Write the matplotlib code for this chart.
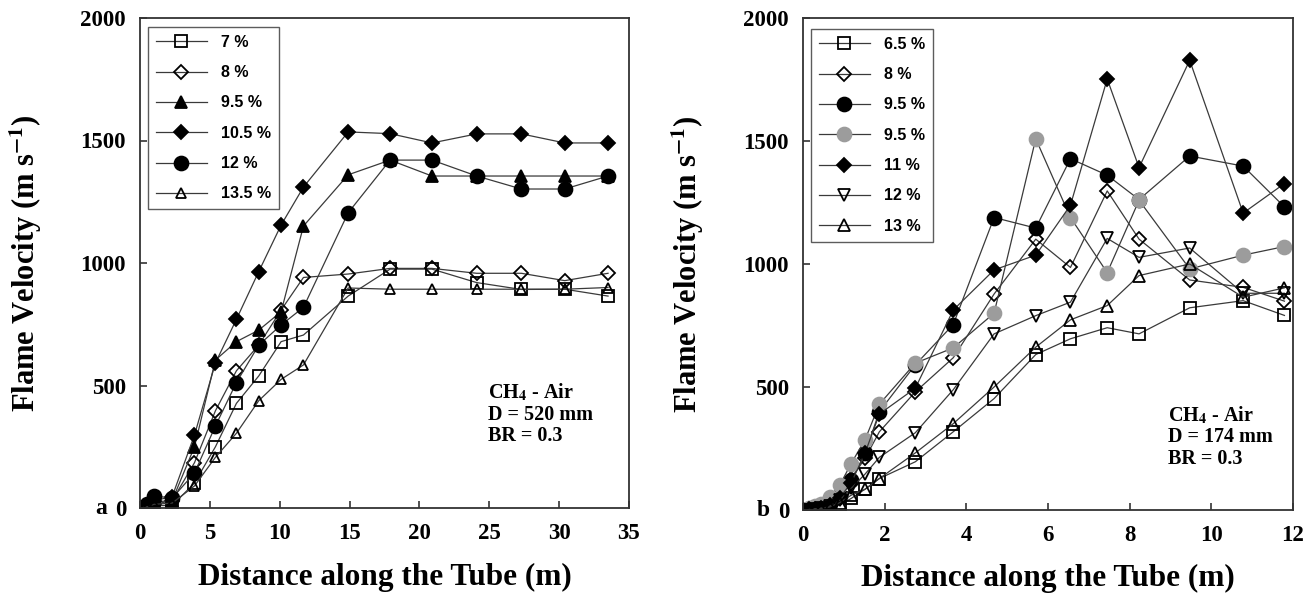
import matplotlib
matplotlib.use("Agg")
import matplotlib.pyplot as plt
from matplotlib import font_manager

plt.rcParams['mathtext.fontset'] = 'stix'

# ---------------- Panel a data (D = 520 mm) ----------------
x_a = [0, 0.5, 1.0, 2.3, 3.9, 5.4, 6.9, 8.5, 10.1, 11.7, 14.9, 17.9, 20.9, 24.1, 27.3, 30.4, 33.5]
a_7 = [0, 5, 10, 10, 102, 250, 427, 539, 679, 706, 865, 975, 975, 920, 892, 893, 865]
a_8 = [0, 5, 15, 30, 185, 397, 560, 665, 808, 941, 955, 978, 978, 958, 958, 928, 958]
a_95 = [0, 10, 25, 30, 250, 604, 679, 726, 801, 1151, 1360, 1420, 1355, 1355, 1355, 1355, 1355]
a_105 = [0, 10, 30, 46, 298, 592, 770, 965, 1155, 1310, 1535, 1528, 1490, 1527, 1527, 1490, 1490]
a_12 = [0, 15, 50, 40, 143, 335, 512, 665, 747, 819, 1205, 1420, 1420, 1355, 1302, 1302, 1355]
a_135 = [0, 5, 15, 20, 90, 207, 305, 438, 525, 584, 898, 893, 893, 893, 893, 893, 900]
labels_a = ['7 %', '8 %', '9.5 %', '10.5 %', '12 %', '13.5 %']

# ---------------- Panel b data (D = 174 mm) ----------------
x_b = [0, 0.15, 0.3, 0.45, 0.65, 0.9, 1.18, 1.52, 1.87, 2.75, 3.68, 4.68, 5.7, 6.55, 7.45, 8.23, 9.47, 10.78, 11.79]
b_65 = [0, 2, 4, 6, 10, 20, 47, 85, 128, 196, 318, 453, 632, 696, 741, 716, 822, 851, 791]
b_8 = [0, 3, 6, 10, 20, 50, 128, 210, 318, 480, 619, 878, 1101, 986, 1297, 1101, 935, 905, 849]
b_95 = [0, 3, 6, 12, 25, 55, 120, 230, 400, 590, 754, 1189, 1146, 1428, 1361, 1262, 1439, 1398, 1232]
b_95g = [0, 8, 15, 25, 54, 101, 189, 286, 430, 597, 659, 800, 1509, 1189, 965, 1259, 980, 1036, 1071]
b_11 = [0, 3, 6, 10, 20, 50, 110, 232, 390, 495, 813, 976, 1036, 1239, 1752, 1392, 1828, 1207, 1327]
b_12 = [0, 2, 5, 8, 15, 40, 88, 146, 214, 314, 489, 716, 790, 845, 1104, 1027, 1065, 881, 881]
b_13 = [0, 2, 4, 6, 12, 30, 60, 84, 128, 232, 351, 500, 662, 773, 831, 953, 1000, 865, 903]
labels_b = ['6.5 %', '8 %', '9.5 %', '9.5 %', '11 %', '12 %', '13 %']

LINE = '#3a3a3a'
GRAY = '#9c9c9c'
SERIF = ['Liberation Serif', 'DejaVu Serif']
installed = {f.name for f in font_manager.fontManager.ttflist}
LEGFONT = ['Liberation Sans Narrow'] if 'Liberation Sans Narrow' in installed else ['Liberation Sans']
LEGSIZE = 13.5 if LEGFONT[0] == 'Liberation Sans Narrow' else 11.5

fig = plt.figure(figsize=(13.16, 5.94), dpi=100)
axa = fig.add_axes([140/1316, 86/594, 489/1316, 490/594])
axb = fig.add_axes([803/1316, 84/594, 490/1316, 492/594])

def style(m, face, edge='black', ms=8):
    return dict(marker=m, markerfacecolor=face, markeredgecolor=edge, markersize=ms,
                markeredgewidth=1.3, color=LINE, linewidth=0.9)

series_a = [
    (a_7, style('s', 'none', ms=8.5)),
    (a_8, style('D', 'none', ms=7.5)),
    (a_95, style('^', 'black', ms=8.5)),
    (a_105, style('D', 'black', ms=7)),
    (a_12, style('o', 'black', ms=10)),
    (a_135, style('^', 'none', ms=7.5)),
]
for (y, st), lab in zip(series_a, labels_a):
    axa.plot(x_a, y, label=lab, **st)

series_b = [
    (b_65, style('s', 'none', ms=8.5)),
    (b_8, style('D', 'none', ms=7.5)),
    (b_95, style('o', 'black', ms=10)),
    (b_95g, style('o', GRAY, GRAY, ms=10)),
    (b_11, style('D', 'black', ms=7)),
    (b_12, style('v', 'none', ms=8.5)),
    (b_13, style('^', 'none', ms=8)),
]
for (y, st), lab in zip(series_b, labels_b):
    axb.plot(x_b, y, label=lab, **st)

axa.set_xlim(0, 35)
axa.set_xticks([0, 5, 10, 15, 20, 25, 30, 35])
axb.set_xlim(0, 12)
axb.set_xticks([0, 2, 4, 6, 8, 10, 12])

for ax, ylx, xly, tops in ((axa, -0.196, -0.112, 0.982), (axb, -0.198, -0.110, 0.978)):
    ax.set_ylim(0, 2000)
    ax.set_yticks([0, 500, 1000, 1500, 2000])
    ax.tick_params(direction='in', length=5, width=1.2, color='#333333',
                   top=False, right=False)
    ax.tick_params(axis='x', pad=11)
    ax.tick_params(axis='y', pad=10)
    for lbl in ax.get_xticklabels() + ax.get_yticklabels():
        lbl.set_fontfamily(SERIF)
        lbl.set_fontweight('bold')
        lbl.set_fontsize(16.5)
    for sp in ax.spines.values():
        sp.set_linewidth(1.3)
        sp.set_color('#333333')
    ax.set_xlabel('Distance along the Tube (m)', fontfamily=SERIF, fontweight='bold',
                  fontsize=22.5)
    ax.set_ylabel(r'Flame Velocity (m s$^{\mathbf{-1}}$)', fontfamily=SERIF,
                  fontweight='bold', fontsize=22)
    ax.yaxis.set_label_coords(ylx, 0.5)
    ax.xaxis.set_label_coords(0.5, xly)
    leg = ax.legend(loc='upper left', bbox_to_anchor=(0.016, tops), frameon=True,
                    fancybox=False, edgecolor='#333333', handlelength=3.2,
                    handletextpad=0.9, borderpad=0.5, labelspacing=0.96,
                    borderaxespad=0.0,
                    prop={'family': LEGFONT, 'weight': 'bold', 'size': LEGSIZE})
    leg.get_frame().set_linewidth(1.0)

txt_kw = dict(fontfamily=SERIF, fontweight='bold', fontsize=14.5, va='top', ha='left',
              linespacing=1.1)
axa.text(0.711, 0.258, 'CH$_{\\mathbf{4}}$ - Air\nD = 520 mm\nBR = 0.3',
         transform=axa.transAxes, **txt_kw)
axb.text(0.745, 0.215, 'CH$_{\\mathbf{4}}$ - Air\nD = 174 mm\nBR = 0.3',
         transform=axb.transAxes, **txt_kw)

fig.text(101/1316, 1 - 508/594, 'a', fontfamily=SERIF, fontweight='bold', fontsize=17,
         ha='center', va='center')
fig.text(763/1316, 1 - 510/594, 'b', fontfamily=SERIF, fontweight='bold', fontsize=17,
         ha='center', va='center')

fig.savefig('out.png', dpi=100)
